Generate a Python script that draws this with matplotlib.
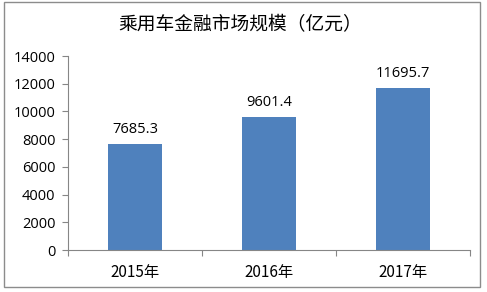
import matplotlib.pyplot as plt
from matplotlib.patches import Rectangle

plt.rcParams['font.family'] = ['Noto Sans CJK SC', 'DejaVu Sans']

# --- DATA ---
years = ["2015年", "2016年", "2017年"]
values = [7685.3, 9601.4, 11695.7]
y_ticks = [0, 2000, 4000, 6000, 8000, 10000, 12000, 14000]

BAR_COLOR = "#4F81BD"
AXIS_COLOR = "#868686"

fig = plt.figure(figsize=(4.87, 2.92), dpi=100)
ax = fig.add_axes([0.1396, 0.1438, 0.8254, 0.6644])

x = range(len(years))
ax.bar(x, values, width=0.4, color=BAR_COLOR, zorder=2)
for xi, v in zip(x, values):
    ax.text(xi, v + 500, f"{v:.1f}", ha="center", va="bottom", fontsize=10.5,
            family=['Open Sans', 'DejaVu Sans'], color="#000000")

ax.set_xlim(-0.5, len(years) - 0.5)
ax.set_ylim(0, 14000)
ax.set_yticks(y_ticks)
ax.set_yticklabels([str(t) for t in y_ticks], family=['Open Sans', 'DejaVu Sans'], fontsize=10.5)

# category boundary ticks, labels in the middle
ax.set_xticks([i - 0.5 for i in range(len(years) + 1)])
ax.set_xticklabels([""] * (len(years) + 1))
ax.set_xticks(list(x), minor=True)
ax.set_xticklabels(years, minor=True, fontsize=11)
ax.tick_params(axis="x", which="minor", length=0, pad=10)
ax.tick_params(axis="x", which="major", length=4, color=AXIS_COLOR, direction="out")
ax.tick_params(axis="y", length=4, color=AXIS_COLOR, direction="out", pad=5)

for side in ["top", "right"]:
    ax.spines[side].set_visible(False)
for side in ["left", "bottom"]:
    ax.spines[side].set_color(AXIS_COLOR)
    ax.spines[side].set_linewidth(0.8)

fig.text(0.493, 0.915, "乘用车金融市场规模（亿元）", ha="center", va="center", fontsize=13.5)

# outer frame
fig.patches.append(Rectangle((4 / 487, 1 - 287 / 292), 476 / 487, 285 / 292,
                             transform=fig.transFigure, fill=False,
                             edgecolor="#8C8C8C", linewidth=1.0))

fig.savefig("out.png", dpi=100)
